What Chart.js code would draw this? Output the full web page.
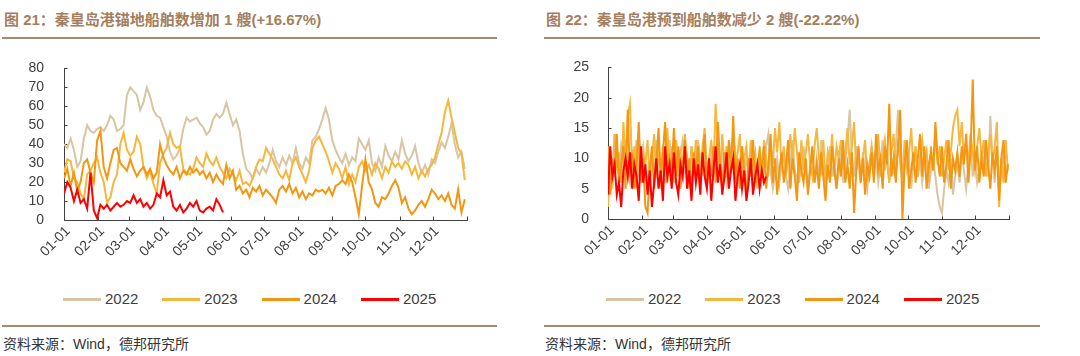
<!DOCTYPE html>
<html><head><meta charset="utf-8">
<script src="https://cdn.jsdelivr.net/npm/chart.js@4.4.1/dist/chart.umd.min.js"></script>
<style>
html,body{margin:0;padding:0;background:#fff;}
body{width:1080px;height:356px;position:relative;overflow:hidden;font-family:"Liberation Sans",Arial,sans-serif;}
.title{position:absolute;top:10px;font-family:"Liberation Sans","Noto Sans CJK SC",sans-serif;font-weight:bold;font-size:15px;color:#A47E5E;white-space:nowrap;line-height:20px;}
.rule{position:absolute;height:2px;background:#A98A6C;}
.src{position:absolute;top:334px;font-family:"Liberation Sans","Noto Sans CJK SC",sans-serif;font-size:14px;color:#333;line-height:20px;white-space:nowrap;}
.legend{position:absolute;top:290px;height:18px;display:flex;}
.legend .item{width:99.3px;display:flex;align-items:center;}
.legend .line{width:38px;height:3px;margin-right:4px;}
.legend .txt{font-size:15px;color:#404040;line-height:18px;}
canvas{position:absolute;top:40px;}
</style>
</head>
<body>
<div class="title" style="left:4px">图 21：秦皇岛港锚地船舶数增加 1 艘(+16.67%)</div>
<div class="rule" style="left:2px;width:495px;top:37px"></div>
<canvas id="c1" width="500" height="240" style="left:0px"></canvas>
<div class="legend" id="lg1" style="left:63px"></div>
<div class="rule" style="left:2px;width:495px;top:325px"></div>
<div class="src" style="left:3px">资料来源：Wind，德邦研究所</div>

<div class="title" style="left:546px">图 22：秦皇岛港预到船舶数减少 2 艘(-22.22%)</div>
<div class="rule" style="left:544px;width:496px;top:37px"></div>
<canvas id="c2" width="500" height="240" style="left:544px"></canvas>
<div class="legend" id="lg2" style="left:606px"></div>
<div class="rule" style="left:544px;width:496px;top:325px"></div>
<div class="src" style="left:545px">资料来源：Wind，德邦研究所</div>

<script>
// ---------- categories ----------
const YEARS = ['2022','2023','2024','2025'];
const MONTH_LABELS = ['01-01','02-01','03-01','04-01','05-01','06-01','07-01','08-01','09-01','10-01','11-01','12-01'];
const MONTH_START_DAY = [0,31,59,90,120,151,181,212,243,273,304,334];
const YEAR_END_DAY = 365;
const LEFT_STEP_DAYS = 3;   // left series sampled every 3 days from 01-01
const RIGHT_STEP_DAYS = 2;  // right series sampled every 2 days from 01-01

// ---------- 图21 锚地船舶数 ----------
const ANCHOR_2022 = [
 40,38,43,37,28,31,43,50,47,46,
 48,49,47,50,55,53,47,48,50,66,
 70,68,66,58,62,70,65,58,55,54,
 49,44,36,32,34,38,48,54,52,53,
 54,51,49,45,47,53,56,54,56,62,
 56,50,53,47,35,27,25,22,27,24,
 28,25,30,37,31,28,33,29,34,30,
 38,30,27,33,30,42,44,48,53,59,
 53,42,37,33,30,35,29,33,31,43,
 40,37,42,30,26,33,28,39,34,31,
 36,32,42,35,31,34,39,30,25,29,
 24,32,30,36,41,38,44,51,40,33,
 36,27];
const ANCHOR_2023 = [
 25,32,31,22,20,14,11,24,26,30,
 33,25,20,9,12,20,24,40,46,37,
 34,36,44,40,28,22,26,19,14,30,
 35,38,46,40,38,39,27,25,24,27,
 33,30,28,35,31,29,33,28,25,22,
 27,24,21,26,19,20,18,22,28,32,
 31,38,35,32,28,24,22,26,21,30,
 33,28,24,20,26,38,42,44,40,36,
 31,25,30,27,22,28,19,24,20,28,
 31,26,29,24,30,27,22,28,25,31,
 28,30,27,31,29,24,28,22,26,23,
 27,29,33,40,46,57,63,54,46,38,
 35,21];
const ANCHOR_2024 = [
 22,27,18,25,15,20,30,32,25,20,
 42,47,28,22,30,37,38,30,28,26,
 32,27,23,26,28,24,27,22,25,40,
 33,29,26,24,28,22,26,24,28,25,
 27,24,26,22,25,20,24,21,19,29,
 22,26,16,18,14,16,12,17,15,18,
 13,16,14,12,9,16,18,15,19,14,
 17,12,15,11,14,13,16,15,16,14,
 17,13,18,19,21,19,24,20,12,3,
 18,32,20,16,9,7,12,11,14,18,
 21,17,9,12,6,3,5,8,10,7,
 11,16,14,11,13,10,14,8,6,16,
 4,11];
const ANCHOR_2025 = [
 14,20,17,10,16,9,11,6,25,5,
 1,8,6,8,5,7,9,7,8,10,
 9,13,9,11,7,9,6,8,14,12,
 21,13,15,7,5,8,4,6,9,7,
 10,5,4,6,7,5,11,8,4];

// ---------- 图22 预到船舶数 ----------
const ARRIVE_2022 = [
 8,11,6,14,9,7,12,10,13,8,
 6,11,9,13,7,10,12,8,6,9,
 11,7,13,9,8,12,6,10,13,8,
 9,12,7,11,13,8,10,6,12,9,
 7,13,10,8,11,6,9,12,8,10,
 13,7,11,9,6,10,12,8,11,7,
 9,12,6,10,8,11,5,9,7,10,
 6,8,12,14,8,5,7,10,6,9,
 11,7,5,9,13,8,6,10,7,12,
 8,5,9,11,6,10,7,13,8,6,
 9,12,7,10,5,8,11,6,9,13,
 18,10,7,12,9,6,11,8,5,9,
 12,7,10,6,9,13,8,11,6,10,
 8,12,18,9,6,11,8,10,5,9,
 12,7,10,6,9,11,5,8,10,7,
 4,2,1,5,8,6,10,4,7,9,
 6,11,8,5,9,12,7,10,6,8,
 11,9,13,7,17,10,6,12,4,8,
 11,7,9];
const ARRIVE_2023 = [
 2,10,5,14,8,11,6,16,9,17,
 19,8,12,5,14,7,11,9,13,6,
 10,14,7,12,5,11,9,15,8,12,
 6,13,9,11,7,14,10,5,12,8,
 13,9,6,12,15,7,10,13,8,19,
 11,7,14,9,12,5,10,13,8,11,
 14,6,10,12,7,13,9,11,5,12,
 8,13,10,7,12,9,15,11,16,8,
 12,7,10,14,9,15,11,6,13,8,
 11,14,9,7,12,15,10,8,13,6,
 11,9,14,7,12,10,13,8,11,15,
 9,12,16,8,11,7,10,13,6,9,
 12,8,11,14,7,10,13,9,6,11,
 14,8,12,10,7,13,9,11,15,8,
 12,7,10,13,9,11,6,12,8,14,
 9,12,7,10,13,8,11,15,17,18,
 12,16,10,13,9,14,11,8,12,15,
 10,13,7,11,14,9,12,16,2,10,
 6,13,8];
const ARRIVE_2024 = [
 12,4,10,7,14,6,9,12,5,18,
 7,11,5,9,16,6,10,2,1,8,
 12,5,9,15,7,11,16,6,10,8,
 15,7,12,5,9,13,6,10,4,11,
 8,12,6,9,14,5,10,7,12,6,
 16,9,5,11,7,13,8,17,6,10,
 5,12,8,4,10,7,13,6,9,11,
 7,12,5,9,14,6,10,4,8,11,
 6,9,13,5,10,7,3,11,8,6,
 10,4,8,12,6,9,5,11,7,3,
 9,6,12,8,5,10,7,13,6,9,
 5,11,1,8,12,6,10,4,9,7,
 11,6,14,8,10,5,12,9,19,7,
 10,6,12,18,0,9,13,5,8,11,
 6,10,14,7,12,5,9,11,8,16,
 10,7,12,6,9,13,5,10,8,11,
 7,12,9,14,6,11,23,8,12,6,
 10,7,13,9,5,11,8,12,3,10,
 13,6,9];
const ARRIVE_2025 = [
 4,12,7,9,4,6,2,8,10,7,
 11,5,9,7,3,12,6,9,4,8,
 2,6,10,5,8,3,12,7,9,5,
 11,6,4,9,7,12,5,8,3,10,
 6,9,4,11,7,5,10,3,8,12,
 6,9,4,7,11,5,8,10,3,7,
 9,5,8,3,6,10,4,7,9,5,
 8,6,7];

// ---------- styles ----------
const SERIES_COLORS = ['#D8C5A2','#F5B73E','#F39611','#FF0000'];
const DRAW_ORDER = [3,2,1,0];   // 2025 on top

const tickDays = MONTH_START_DAY.concat([YEAR_END_DAY]);
const labelByDay = {};
MONTH_START_DAY.forEach((d,i)=>{ labelByDay[d] = MONTH_LABELS[i]; });

const axesPlugin = {
  id:'axesInward',
  beforeDatasetsDraw(chart){
    const {ctx, chartArea:a, scales:{x,y}} = chart;
    ctx.save();
    ctx.strokeStyle = '#404040';
    ctx.lineWidth = 1;
    ctx.beginPath();
    const L = Math.round(a.left)+0.5, B = Math.round(a.bottom)+0.5;
    ctx.moveTo(L, Math.round(a.top)); ctx.lineTo(L, B); ctx.lineTo(Math.round(a.right)+1, B);
    y.ticks.forEach(t=>{ const py = Math.round(y.getPixelForValue(t.value))+0.5; ctx.moveTo(L,py); ctx.lineTo(L+3,py); });
    x.ticks.forEach(t=>{ const px = Math.round(x.getPixelForValue(t.value))+0.5; ctx.moveTo(px,B); ctx.lineTo(px,B-4); });
    ctx.stroke();
    ctx.restore();
  }
};

function toPoints(arr, step){ return arr.map((v,i)=>({x:i*step, y:v})); }

function makeChart(id, legendId, seriesList, step, yMax, yStep, pad){
  const datasets = seriesList.map((arr,i)=>({
    label: YEARS[i],
    data: toPoints(arr, step),
    borderColor: SERIES_COLORS[i],
    backgroundColor: SERIES_COLORS[i],
    borderWidth: 2,
    pointRadius: 0,
    tension: 0,
    fill: false,
    order: DRAW_ORDER[i]
  }));
  const chart = new Chart(document.getElementById(id), {
    type:'line',
    data:{datasets},
    options:{
      responsive:false,
      animation:false,
      events:[],
      layout:{padding:{left:0,right:pad.right,top:pad.top,bottom:0}},
      plugins:{legend:{display:false},tooltip:{enabled:false}},
      scales:{
        x:{
          type:'linear', min:0, max:YEAR_END_DAY,
          grid:{display:false, drawTicks:false}, border:{display:false},
          afterBuildTicks: s => { s.ticks = tickDays.map(v=>({value:v})); },
          afterFit: s => { s.height = pad.xh; },
          ticks:{
            autoSkip:false, maxRotation:45, minRotation:45, padding:3, labelOffset:4,
            color:'#404040', font:{family:'Liberation Sans', size:14},
            callback: v => (labelByDay[v] !== undefined ? labelByDay[v] : '')
          }
        },
        y:{
          min:0, max:yMax,
          grid:{display:false, drawTicks:false}, border:{display:false},
          afterFit: s => { s.width = pad.yw; },
          ticks:{autoSkip:false, stepSize:yStep, padding:pad.ylp, color:'#404040', font:{family:'Liberation Sans', size:14}}
        }
      }
    },
    plugins:[axesPlugin]
  });
  const lg = document.getElementById(legendId);
  chart.data.datasets.forEach(ds=>{
    const it = document.createElement('div'); it.className='item';
    const ln = document.createElement('span'); ln.className='line'; ln.style.background = ds.borderColor;
    const tx = document.createElement('span'); tx.className='txt'; tx.textContent = ds.label;
    it.appendChild(ln); it.appendChild(tx); lg.appendChild(it);
  });
  return chart;
}

makeChart('c1','lg1',[ANCHOR_2022,ANCHOR_2023,ANCHOR_2024,ANCHOR_2025], LEFT_STEP_DAYS, 80, 10,
  {right:33, top:23, xh:60, yw:64, ylp:20});
makeChart('c2','lg2',[ARRIVE_2022,ARRIVE_2023,ARRIVE_2024,ARRIVE_2025], RIGHT_STEP_DAYS, 25, 5,
  {right:35, top:22, xh:61, yw:64, ylp:19});
</script>
</body></html>
